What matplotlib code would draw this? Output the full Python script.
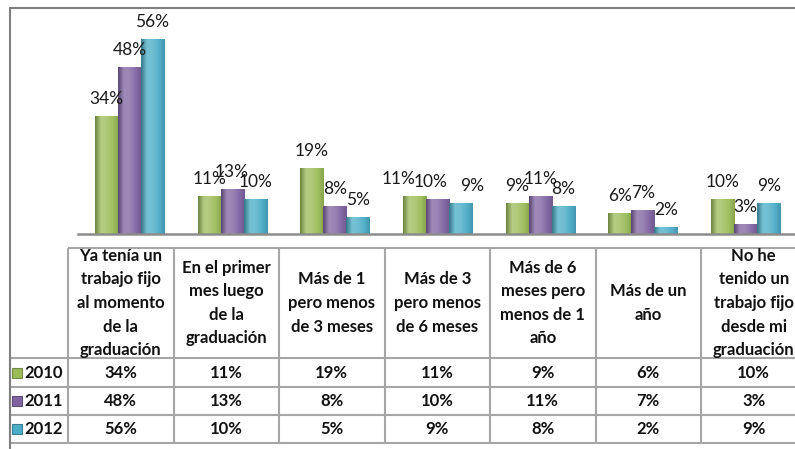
import numpy as np
import matplotlib
matplotlib.use("Agg")
import matplotlib.pyplot as plt
from matplotlib.colors import LinearSegmentedColormap, to_rgb
from matplotlib.patches import Rectangle

plt.rcParams['font.family'] = ['Lato', 'DejaVu Sans']

categories = ["Ya tenía un\ntrabajo fijo\nal momento\nde la\ngraduación",
              "En el primer\nmes luego\nde la\ngraduación",
              "Más de 1\npero menos\nde 3 meses",
              "Más de 3\npero menos\nde 6 meses",
              "Más de 6\nmeses pero\nmenos de 1\naño",
              "Más de un\naño",
              "No he\ntenido un\ntrabajo fijo\ndesde mi\ngraduación"]
years = ["2010", "2011", "2012"]
v2010 = [34, 11, 19, 11, 9, 6, 10]
v2011 = [48, 13, 8, 10, 11, 7, 3]
v2012 = [56, 10, 5, 9, 8, 2, 9]
series = [v2010, v2011, v2012]
colors = ["#9BBB59", "#8064A2", "#4BACC6"]

# a few labels were nudged sideways in the original (in points)
label_nudge = {(3, 0): -11.5, (3, 1): -5, (3, 2): 8.6}

W, H = 795, 449
fig = plt.figure(figsize=(W / 100, H / 100), dpi=100)


def mix(c, other, t):
    c = np.array(to_rgb(c))
    return tuple(c * (1 - t) + np.array(other) * t)


# bar area (plot area is shifted a bit relative to the table, like the original)
ax = fig.add_axes([78 / W, (H - 234) / H, 719 / W, 226 / H])
x = np.arange(len(categories))
bw = 0.224
grad = np.linspace(0, 1, 64).reshape(1, -1)
for i, (vals, c) in enumerate(zip(series, colors)):
    bars = ax.bar(x + (i - 1) * bw, vals, bw, color=c, edgecolor=mix(c, (0, 0, 0), 0.15),
                  linewidth=0.6, zorder=2)
    cmap = LinearSegmentedColormap.from_list(
        "cyl", [mix(c, (0, 0, 0), 0.3), mix(c, (1, 1, 1), 0.25), mix(c, (1, 1, 1), 0.2),
                mix(c, (1, 1, 1), 0.05), mix(c, (0, 0, 0), 0.12)])
    for j, b in enumerate(bars):
        im = ax.imshow(grad, extent=(b.get_x(), b.get_x() + b.get_width(), 0, b.get_height()),
                       aspect="auto", cmap=cmap, zorder=2.1)
        im.set_clip_path(b)
        ax.annotate(f"{vals[j]}%", (b.get_x() + b.get_width() / 2, b.get_height()),
                    xytext=(label_nudge.get((j, i), 0), 8.6), textcoords="offset points",
                    ha="center", va="baseline", fontsize=12.5, color="#1a1a1a", zorder=3)

ax.set_xlim(-0.5, len(categories) - 0.5)
ax.set_ylim(0, 65)
for s in ["top", "right", "left"]:
    ax.spines[s].set_visible(False)
ax.spines["bottom"].set_color("#8c8c8c")
ax.spines["bottom"].set_linewidth(1.8)
ax.set_xticks([])
ax.set_yticks([])
ax.patch.set_alpha(0)

# outer chart frame
fig.patches.append(Rectangle((10 / W, -0.05), 1.1, (H - 8) / H + 0.05, fill=False,
                             edgecolor="#7f7f7f", linewidth=1.5,
                             transform=fig.transFigure, figure=fig))

# data table, laid out in pixel-like units
lab_w, col_w = 58, 105.5
row_h = [110, 29, 28, 28]
xe = np.concatenate([[0], lab_w + col_w * np.arange(len(categories) + 1)])
ye = np.concatenate([[0], np.cumsum(row_h)])
tax = fig.add_axes([10 / W, (H - 248 - ye[-1]) / H, xe[-1] / W, ye[-1] / H])
tax.set_xlim(0, xe[-1])
tax.set_ylim(ye[-1], 0)
tax.set_axis_off()
grid_kw = dict(color="#a6a6a6", linewidth=1.5, clip_on=False)
tax.hlines(ye[0], xe[1], xe[-1], **grid_kw)
tax.hlines(ye[1:], xe[0], xe[-1], **grid_kw)
tax.vlines(xe[1:], ye[0], ye[-1], **grid_kw)
tax.vlines(xe[0], ye[1], ye[-1], **grid_kw)

txt_kw = dict(fontsize=12, fontweight="bold", color="#111111", clip_on=False)
for j, cat in enumerate(categories):
    xc = (xe[j + 1] + xe[j + 2]) / 2
    tax.text(xc, (ye[0] + ye[1]) / 2, cat, ha="center", va="center",
             multialignment="center", linespacing=1.58, **txt_kw)
for r, (yr, vals, c) in enumerate(zip(years, series, colors)):
    yc = (ye[r + 1] + ye[r + 2]) / 2
    tax.text(xe[1] - 5, yc, yr, ha="right", va="center", **txt_kw)
    tax.add_patch(Rectangle((2, yc - 5), 10, 10, facecolor=c,
                            edgecolor=mix(c, (0, 0, 0), 0.25), linewidth=0.8))
    for j, v in enumerate(vals):
        xc = (xe[j + 1] + xe[j + 2]) / 2
        tax.text(xc, yc, f"{v}%", ha="center", va="center", **txt_kw)

fig.savefig("out.png", dpi=100)
